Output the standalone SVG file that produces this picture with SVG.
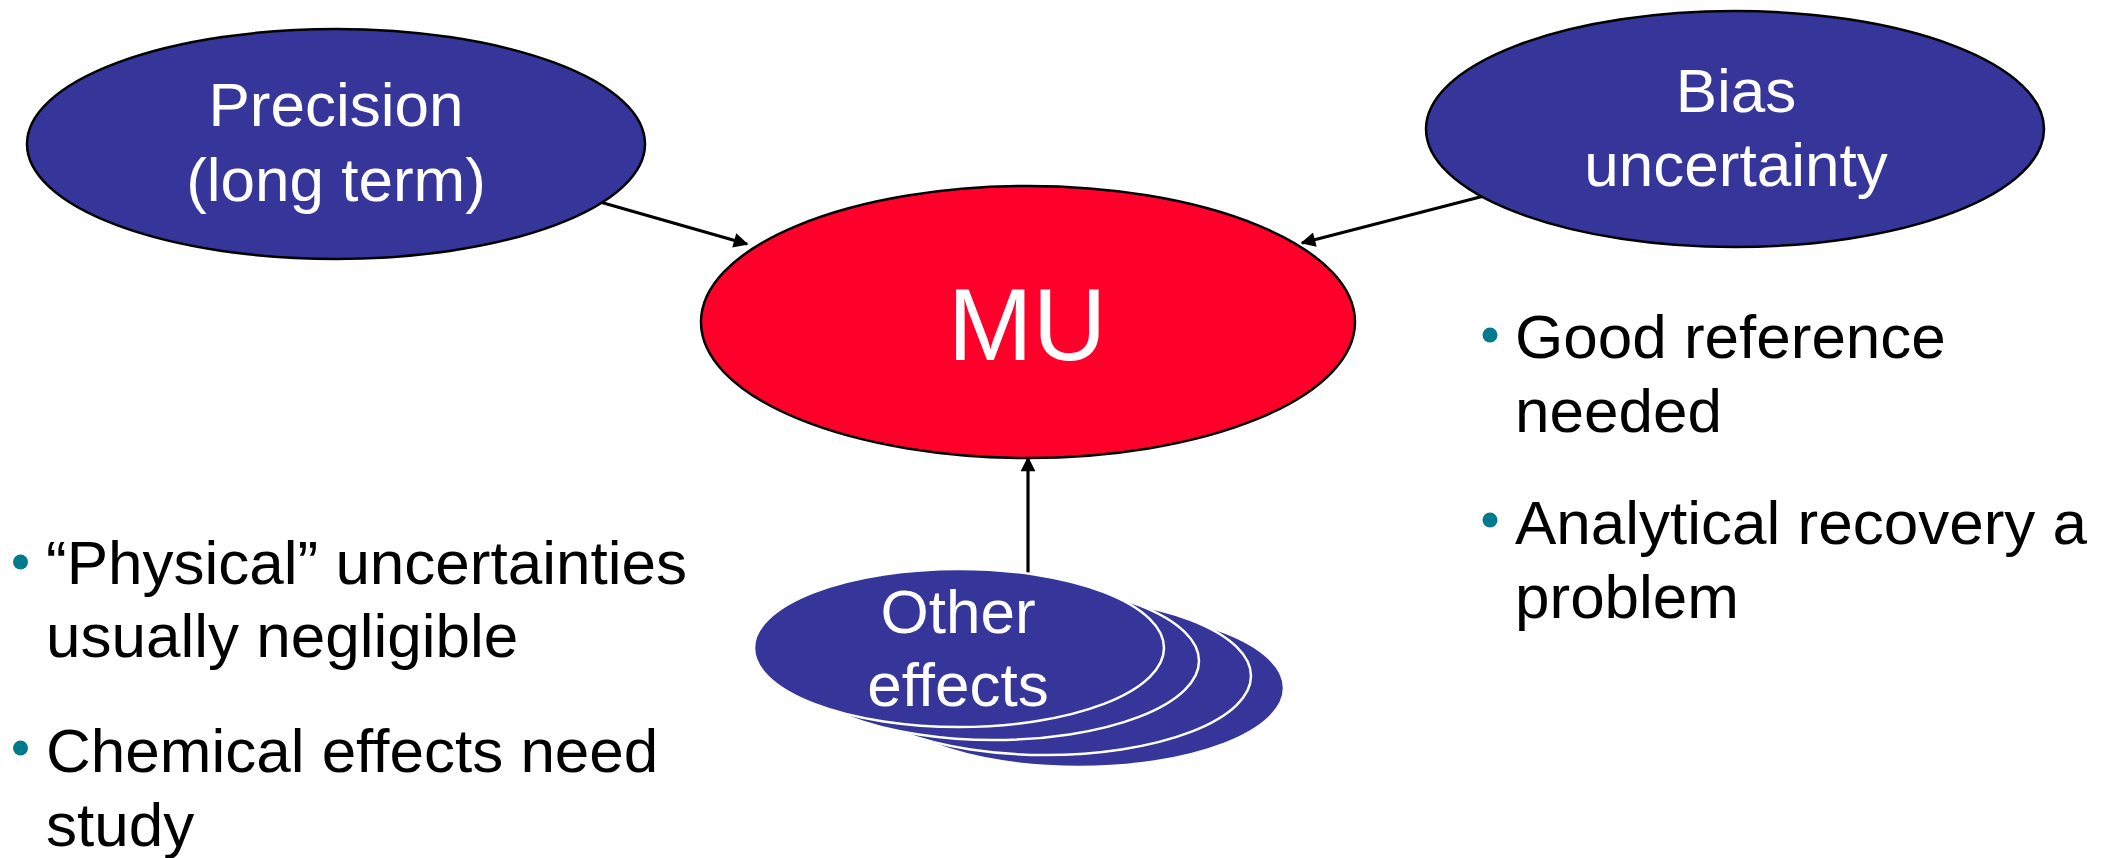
<svg xmlns="http://www.w3.org/2000/svg" width="2116" height="858" viewBox="0 0 2116 858">
  <style>
    .node { fill: #35359A; stroke: #000; stroke-width: 2.5; }
    .mu { fill: #FF002B; stroke: #000; stroke-width: 2.5; }
    .stack { fill: #35359A; stroke: #fff; stroke-width: 2.5; }
    .label { font-family: "Liberation Sans", Arial, sans-serif; fill: #fff; text-anchor: middle; font-size: 62px; }
    .big { font-size: 102px; }
    .body { font-family: "Liberation Sans", Arial, sans-serif; fill: #000; font-size: 62px; }
    .dot { fill: #007A8C; }
    .conn { stroke: #000; stroke-width: 3.2; fill: none; marker-end: url(#arrow); }
  </style>
  <defs>
    <marker id="arrow" viewBox="0 0 10 10" refX="9" refY="5" markerWidth="5.5" markerHeight="4.6" orient="auto" markerUnits="strokeWidth">
      <path d="M0,0 L10,5 L0,10 Z" fill="#000"/>
    </marker>
  </defs>
  <rect width="2116" height="858" fill="#fff"/>

  <!-- connectors -->
  <g id="connectors">
    <line class="conn" x1="600" y1="202" x2="747" y2="244"/>
    <line class="conn" x1="1484" y1="196" x2="1302" y2="243"/>
    <line class="conn" x1="1028" y1="574" x2="1028" y2="458"/>
  </g>

  <g id="precision">
    <ellipse class="node" cx="336" cy="144" rx="309" ry="115"/>
    <text class="label" x="336" y="126">Precision</text>
    <text class="label" x="336" y="201">(long term)</text>
  </g>

  <g id="bias">
    <ellipse class="node" cx="1735" cy="129" rx="309" ry="118"/>
    <text class="label" x="1736" y="112">Bias</text>
    <text class="label" x="1736" y="186">uncertainty</text>
  </g>

  <g id="mu">
    <ellipse class="mu" cx="1028" cy="322" rx="327" ry="136"/>
    <text class="label big" x="1027" y="360">MU</text>
  </g>

  <!-- stacked ellipses, drawn back to front -->
  <g id="other-effects">
    <ellipse class="stack" cx="1079" cy="688" rx="205" ry="79"/>
    <ellipse class="stack" cx="1046" cy="676" rx="205" ry="79"/>
    <ellipse class="stack" cx="994" cy="661" rx="205" ry="79"/>
    <ellipse class="stack" cx="959" cy="648" rx="205" ry="79"/>
    <text class="label" x="958" y="633">Other</text>
    <text class="label" x="958" y="706">effects</text>
  </g>

  <g id="notes-left">
    <circle class="dot" cx="20.5" cy="562" r="7.5"/>
    <text class="body" x="46" y="584">“Physical” uncertainties</text>
    <text class="body" x="46" y="657">usually negligible</text>
    <circle class="dot" cx="20.5" cy="748" r="7.5"/>
    <text class="body" x="46" y="772">Chemical effects need</text>
    <text class="body" x="46" y="846">study</text>
  </g>

  <g id="notes-right">
    <circle class="dot" cx="1490" cy="335" r="7.5"/>
    <text class="body" x="1515" y="358">Good reference</text>
    <text class="body" x="1515" y="432">needed</text>
    <circle class="dot" cx="1490" cy="520" r="7.5"/>
    <text class="body" x="1515" y="544">Analytical recovery a</text>
    <text class="body" x="1515" y="618">problem</text>
  </g>
</svg>
